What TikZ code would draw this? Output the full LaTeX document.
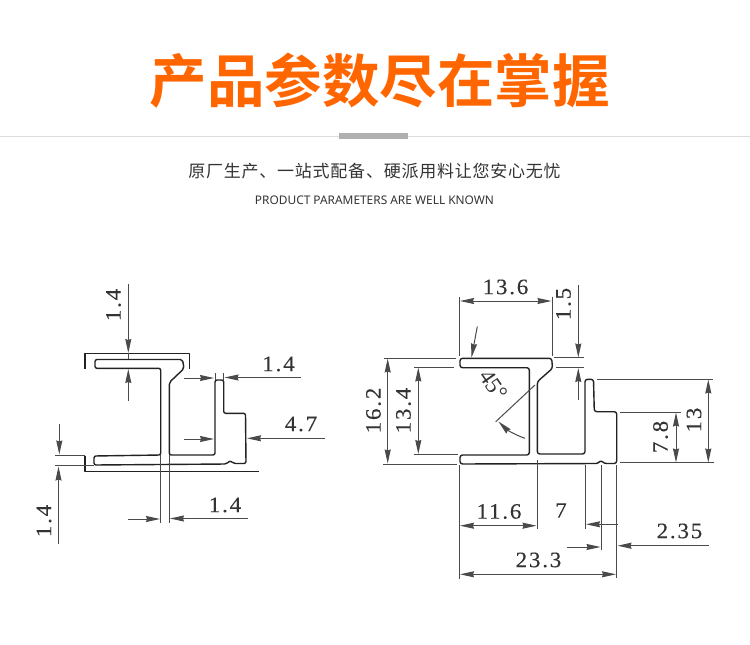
\documentclass[tikz,border=0pt]{standalone}
\usepackage{fontspec}
\usetikzlibrary{arrows.meta}
\setmainfont{Liberation Serif}
\newfontfamily\cjkbold[BoldFont={Noto Sans CJK SC Bold}]{Noto Sans CJK SC}
\newfontfamily\cjkspaced[LetterSpace=4.5]{Noto Sans CJK SC}
\newfontfamily\latinhead{Noto Sans}
\newfontfamily\dimfont[LetterSpace=8,FakeStretch=1.05,FakeBold=0.2]{Liberation Serif}
\definecolor{headorange}{HTML}{FF6600}
\definecolor{rulegray}{HTML}{DDDDDD}
\definecolor{bargray}{HTML}{B0B0B0}
\definecolor{subtext}{HTML}{333333}
\definecolor{profileink}{HTML}{222222}
\definecolor{dimink}{HTML}{4A4A4A}
\tikzset{
  profile/.style={draw=profileink,line width=1.4pt,line join=round},
  dimline/.style={draw=dimink,line width=1pt},
  dimarrow/.style={dimline,-{Stealth[length=14pt,width=6pt,inset=1pt]}},
  dimtext/.style={inner sep=0pt,text=subtext,font=\dimfont\fontsize{22}{24}\selectfont},
}
\begin{document}
\begin{tikzpicture}[x=1pt,y=-1pt]
\useasboundingbox (0,0) rectangle (750,645);
% Header
\node[inner sep=0pt,text=headorange,font=\cjkbold\bfseries\fontsize{57.5}{60}\selectfont] (title) at (379.5,81) {产品参数尽在掌握};
\fill[rulegray] (0,136) rectangle (750,137);
\fill[bargray] (339,133) rectangle (408,139);
\node[inner sep=0pt,text=subtext,font=\cjkspaced\fontsize{17}{19}\selectfont] (subtitle) at (374.5,171) {原厂生产、一站式配备、硬派用料让您安心无忧};
\node[inner sep=0pt,text=subtext,font=\latinhead\fontsize{11.9}{13}\selectfont] (subtitleen) at (374.5,200) {PRODUCT PARAMETERS ARE WELL KNOWN};

% ---------- Left section ----------
\draw[profile] (85,369) -- (85,353.5) -- (189.5,353.5) -- (189.5,369);
\draw[profile,rounded corners=2pt] (95,359.5) -- (182.5,359.5) -- (184,368.5) -- (169.3,382.5) -- (169.3,455) -- (215,455) -- (215,380) -- (223.7,380) -- (223.7,413.3) -- (245.5,413.3) -- (246,463.5) -- (233.5,463.5) -- (230,460.5) -- (226.7,464) -- (94,465) -- (94,456) -- (160.7,455) -- (160.7,368.3) -- (95,368.3) -- cycle;
\draw[profile] (85,455.7) -- (85,471.7) -- (258.5,471.7);
% top 1.4
\draw[dimarrow] (128.3,283.5) -- (128.3,353);
\draw[dimline] (128.3,353) -- (128.3,359);
\draw[dimarrow] (128.3,400.5) -- (128.3,369);
\node[dimtext,rotate=90] (tA) at (113.5,305) {1.4};
% right 1.4
\draw[dimline] (215,373) -- (215,380);
\draw[dimline] (223.7,373) -- (223.7,380);
\draw[dimarrow] (300.5,377.5) -- (224.5,377.5);
\draw[dimarrow] (183.5,378) -- (214,378);
\node[dimtext] (tB) at (278.5,364) {1.4};
% 4.7
\draw[dimarrow] (325,438.3) -- (247,438.3);
\draw[dimarrow] (183.5,439) -- (214,439);
\node[dimtext] (tC) at (301,424) {4.7};
% left 1.4
\draw[dimline] (55,455.7) -- (85,455.7);
\draw[dimline] (55,465) -- (94,465);
\draw[dimarrow] (59.3,423.5) -- (59.3,454.5);
\draw[dimarrow] (58.5,543.5) -- (58.5,466.5);
\node[dimtext,rotate=90] (tD) at (44,521) {1.4};
% bottom 1.4
\draw[dimline] (160.7,455) -- (160.7,523);
\draw[dimline] (169.3,455) -- (169.3,523);
\draw[dimarrow] (128.3,519) -- (160,519);
\draw[dimarrow] (247.5,518.5) -- (170,518.5);
\node[dimtext] (tE) at (225,505) {1.4};

% ---------- Right section ----------
\draw[profile,rounded corners=2.5pt] (460,363) -- (460,358.3) -- (551.7,358.3) -- (552.5,368.3) -- (537.3,381.7) -- (537.3,454) -- (585,454) -- (585,379.3) -- (593.5,379.3) -- (594.3,411.7) -- (616.7,411.7) -- (616.7,463.5) -- (604,463.5) -- (600.7,460) -- (598.3,463.5) -- (460,464) -- (460,455) -- (529.3,455) -- (529.3,367.7) -- (460,367.7) -- cycle;
% 13.6
\draw[dimline] (459.3,296.5) -- (459.3,356);
\draw[dimline] (552,296.5) -- (552,356);
\draw[dimarrow] (505,301) -- (460,301);
\draw[dimarrow] (505,301) -- (551.5,301);
\node[dimtext] (tF) at (505.5,287) {13.6};
\draw[dimarrow] (477.3,326.5) -- (471.5,357.5);
% 1.5
\draw[dimline] (553.5,357.7) -- (583.5,357.7);
\draw[dimline] (556,367.7) -- (583.5,367.7);
\draw[dimarrow] (578.3,285) -- (578.3,357.5);
\draw[dimarrow] (578.3,400) -- (578.3,368);
\node[dimtext,rotate=90] (tG) at (563.5,304) {1.5};
% 16.2
\draw[dimline] (384,358.3) -- (456,358.3);
\draw[dimline] (383.3,464) -- (456.5,464);
\draw[dimarrow] (387.7,410) -- (387.7,358.5);
\draw[dimarrow] (387.7,410) -- (387.7,463.5);
\node[dimtext,rotate=90] (tH) at (373.5,410.5) {16.2};
% 13.4
\draw[dimline] (414,367.3) -- (453.5,367.3);
\draw[dimline] (414,454.3) -- (457.5,454.3);
\draw[dimarrow] (418.3,410) -- (418.3,367.5);
\draw[dimarrow] (418.3,410) -- (418.3,454);
\node[dimtext,rotate=90] (tI) at (403.5,410.5) {13.4};
% 45 deg
\draw[dimline] (535,385) -- (495.7,421.7);
\draw[dimarrow] (525,438.3) .. controls (515,435) and (506,429) .. (498.5,421.5);
\node[inner sep=0pt,text=subtext,rotate=-55,font=\fontsize{23}{25}\selectfont] (tJ) at (493.5,385) {45°};
% bottom extension lines
\draw[dimline] (459.3,465) -- (459.3,578.5);
\draw[dimline] (537.5,460) -- (537.5,529);
\draw[dimline] (585,465) -- (585,529);
\draw[dimline] (601,465) -- (601,550);
\draw[dimline] (616.7,465) -- (616.7,578);
% 11.6
\draw[dimarrow] (498,525.7) -- (460,525.7);
\draw[dimarrow] (498,525.7) -- (536.5,525.7);
\node[dimtext] (tK) at (499,511.5) {11.6};
% 7
\draw[dimarrow] (618,524.3) -- (586,524.3);
\node[dimtext] (tL) at (561,510.5) {7};
% 2.35
\draw[dimarrow] (566.5,547) -- (600.5,547);
\draw[dimarrow] (708.5,545.7) -- (617.5,545.7);
\node[dimtext] (tM) at (679.5,531) {2.35};
% 23.3
\draw[dimarrow] (538,574.3) -- (460,574.3);
\draw[dimarrow] (538,574.3) -- (616,574.3);
\node[dimtext] (tN) at (538.5,560) {23.3};
% 13
\draw[dimline] (596.5,379) -- (712.5,379);
\draw[dimline] (619.5,462.7) -- (713.5,462.7);
\draw[dimarrow] (708.3,421) -- (708.3,379.5);
\draw[dimarrow] (708.3,421) -- (708.3,462.5);
\node[dimtext,rotate=90] (tO) at (694,420) {13};
% 7.8
\draw[dimline] (619.5,412.3) -- (680.5,412.3);
\draw[dimarrow] (676,437) -- (676,412.5);
\draw[dimarrow] (676,437) -- (676,462.5);
\node[dimtext,rotate=90] (tP) at (660.5,437) {7.8};
\end{tikzpicture}
\end{document}
